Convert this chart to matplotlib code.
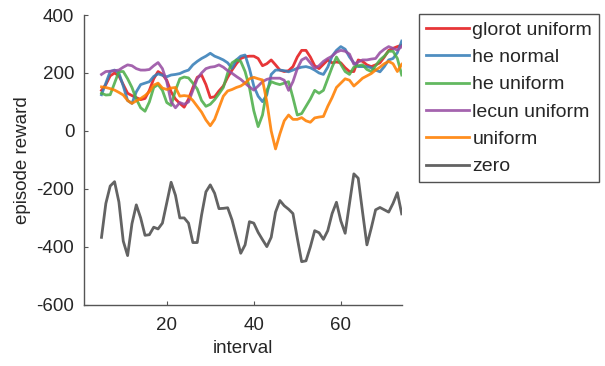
import matplotlib
matplotlib.use("Agg")
import matplotlib.pyplot as plt

interval = list(range(5, 75))

glorot_uniform = [140, 160, 190, 200, 190, 160, 130, 122, 115, 108,
                  112, 140, 180, 205, 195, 175, 135, 110, 95, 82,
                  110, 150, 185, 193, 160, 115, 118, 138, 155, 185,
                  210, 232, 250, 256, 258, 258, 250, 225, 232, 245,
                  228, 210, 205, 208, 222, 255, 278, 278, 255, 225,
                  215, 230, 245, 235, 238, 235, 218, 205, 205, 245,
                  240, 228, 222, 228, 235, 255, 278, 285, 291, 296]
he_normal = [125, 165, 205, 210, 200, 155, 105, 95, 135, 160,
             165, 170, 188, 197, 192, 187, 193, 195, 198, 205,
             210, 228, 240, 250, 258, 268, 258, 252, 245, 235,
             216, 245, 258, 262, 215, 155, 120, 101, 125, 195,
             210, 210, 208, 204, 210, 216, 220, 222, 218, 210,
             200, 195, 220, 258, 278, 291, 282, 255, 235, 222,
             222, 222, 218, 210, 204, 222, 245, 250, 270, 310]
he_uniform = [130, 124, 125, 165, 205, 205, 180, 150, 110, 80,
              68, 100, 150, 160, 140, 98, 88, 140, 180, 186,
              183, 165, 145, 105, 85, 92, 108, 128, 150, 200,
              235, 245, 240, 205, 150, 70, 15, 55, 140, 170,
              164, 160, 165, 170, 115, 55, 60, 85, 110, 140,
              130, 140, 180, 220, 255, 230, 205, 195, 220, 225,
              228, 212, 205, 225, 245, 258, 275, 275, 250, 193]
lecun_uniform = [195, 205, 206, 208, 210, 220, 228, 225, 215, 210,
                 210, 212, 225, 236, 215, 170, 100, 80, 98, 92,
                 100, 140, 180, 200, 215, 220, 222, 228, 220, 208,
                 199, 188, 178, 165, 152, 141, 155, 170, 178, 182,
                 182, 182, 175, 140, 170, 215, 245, 253, 235, 216,
                 225, 240, 250, 258, 272, 278, 275, 265, 230, 238,
                 245, 245, 248, 250, 270, 282, 291, 285, 279, 291]
uniform = [152, 150, 146, 141, 133, 124, 105, 95, 104, 112,
           122, 135, 158, 165, 148, 143, 148, 150, 120, 122,
           120, 105, 85, 65, 38, 18, 40, 80, 120, 138,
           143, 150, 155, 165, 180, 185, 180, 176, 100, 0,
           -62, -10, 35, 55, 40, 40, 46, 35, 30, 45,
           48, 50, 85, 115, 150, 165, 180, 175, 155, 168,
           182, 190, 198, 210, 220, 232, 240, 232, 205, 230]
zero = [-367, -250, -190, -175, -245, -380, -430, -320, -255, -300,
        -360, -358, -332, -338, -318, -248, -177, -222, -300, -300,
        -318, -385, -385, -290, -210, -186, -215, -268, -267, -265,
        -307, -365, -422, -393, -313, -318, -350, -375, -399, -367,
        -280, -240, -258, -270, -285, -370, -451, -448, -400, -344,
        -351, -374, -344, -285, -246, -310, -353, -250, -148, -163,
        -280, -393, -335, -272, -264, -272, -280, -250, -213, -286]

series = [("glorot uniform", glorot_uniform, "#e41a1c"),
          ("he normal", he_normal, "#377eb8"),
          ("he uniform", he_uniform, "#4daf4a"),
          ("lecun uniform", lecun_uniform, "#984ea3"),
          ("uniform", uniform, "#ff7f00"),
          ("zero", zero, "#4d4d4d")]

plt.rcParams['font.family'] = ['Liberation Sans', 'DejaVu Sans']
plt.rcParams['axes.unicode_minus'] = False
text_color = '#262626'

fig = plt.figure(figsize=(6.05, 3.66), dpi=100)
ax = fig.add_axes([0.139, 0.167, 0.525, 0.792])

for name, values, color in series:
    ax.plot(interval, values, color=color, lw=2.0, alpha=0.88, label=name)

ax.set_xlim(1, 74)
ax.set_ylim(-600, 400)
ax.set_xticks([20, 40, 60])
ax.set_yticks([-600, -400, -200, 0, 200, 400])

for side in ['top', 'right']:
    ax.spines[side].set_visible(False)
for side in ['left', 'bottom']:
    ax.spines[side].set_color('#555555')
    ax.spines[side].set_linewidth(1.0)

ax.tick_params(axis='both', direction='in', length=3, color='#555555',
               labelsize=13.5, labelcolor=text_color)
ax.tick_params(axis='y', pad=7)
ax.tick_params(axis='x', pad=9)
ax.set_xlabel('interval', fontsize=13.5, color=text_color, labelpad=4)
ax.set_ylabel('episode reward', fontsize=13.5, color=text_color, labelpad=4)

leg = ax.legend(loc='upper left', bbox_to_anchor=(0.6926, 0.961),
                bbox_transform=fig.transFigure, borderaxespad=0,
                fontsize=14, frameon=True, fancybox=False,
                handlelength=2.2, handletextpad=0.2, labelspacing=0.5,
                borderpad=0.35)
leg.get_frame().set_edgecolor('#262626')
leg.get_frame().set_linewidth(1.0)
for t in leg.get_texts():
    t.set_color(text_color)

plt.savefig('out.png', dpi=100)
